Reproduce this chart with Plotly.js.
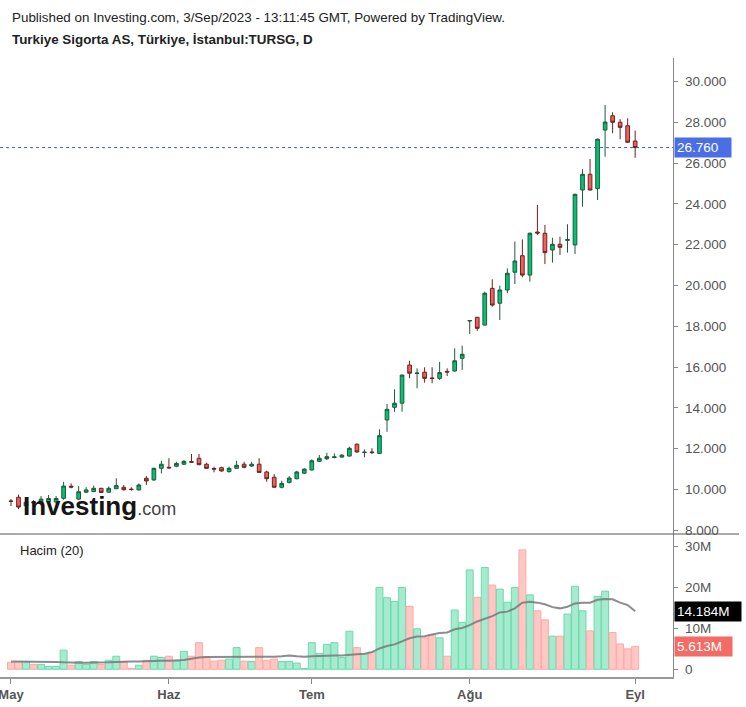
<!DOCTYPE html>
<html>
<head>
<meta charset="utf-8">
<script src="https://cdn.plot.ly/plotly-3.0.1.min.js"></script>
<style>html,body{margin:0;padding:0;background:#fff;}#chart{width:746px;height:707px;}</style>
</head>
<body>
<div id="chart"></div>
<script>
// Trading days (categories)
const dates = [
 '2023-05-02','2023-05-03','2023-05-04','2023-05-05','2023-05-08','2023-05-09','2023-05-10','2023-05-11','2023-05-12',
 '2023-05-15','2023-05-16','2023-05-17','2023-05-18','2023-05-22','2023-05-23','2023-05-24','2023-05-25','2023-05-26',
 '2023-05-29','2023-05-30','2023-05-31',
 '2023-06-01','2023-06-02','2023-06-05','2023-06-06','2023-06-07','2023-06-08','2023-06-09','2023-06-12','2023-06-13',
 '2023-06-14','2023-06-15','2023-06-16','2023-06-19','2023-06-20','2023-06-21','2023-06-22','2023-06-23','2023-06-26','2023-06-27',
 '2023-07-03','2023-07-04','2023-07-05','2023-07-06','2023-07-07','2023-07-10','2023-07-11','2023-07-12','2023-07-13','2023-07-14',
 '2023-07-17','2023-07-18','2023-07-19','2023-07-20','2023-07-21','2023-07-24','2023-07-25','2023-07-26','2023-07-27','2023-07-28','2023-07-31',
 '2023-08-01','2023-08-02','2023-08-03','2023-08-04','2023-08-07','2023-08-08','2023-08-09','2023-08-10','2023-08-11',
 '2023-08-14','2023-08-15','2023-08-16','2023-08-17','2023-08-18','2023-08-21','2023-08-22','2023-08-23','2023-08-24','2023-08-25',
 '2023-08-28','2023-08-29','2023-08-31',
 '2023-09-01'
];
const openP  = [9.44,9.62,9.20,9.38,9.39,9.40,9.39,9.57,10.16,9.53,9.87,9.90,10.06,9.87,10.04,10.11,10.02,9.98,10.55,10.47,
 11.04,11.09,11.14,11.24,11.37,11.53,11.24,11.03,11.07,10.88,11.04,11.24,11.15,11.24,10.86,10.60,10.11,10.35,10.53,10.80,
 10.96,11.38,11.51,11.57,11.59,11.64,12.22,11.81,11.84,11.77,13.41,14.03,14.23,16.10,15.69,15.75,15.47,15.45,15.79,15.81,
 16.43,18.26,18.44,18.06,19.86,19.13,19.78,20.65,21.46,20.51,22.62,22.56,21.74,22.02,22.21,21.99,24.68,25.45,24.75,27.62,
 28.32,28.00,27.83,27.08];
const highP  = [9.53,9.75,9.45,9.48,9.68,9.73,9.68,10.38,10.30,10.17,10.11,10.19,10.08,10.15,10.55,10.22,10.11,10.30,10.66,11.07,
 11.41,11.53,11.36,11.45,11.74,11.74,11.31,11.12,11.12,11.12,11.41,11.36,11.36,11.53,10.92,10.76,10.43,10.66,10.92,11.04,
 11.48,11.69,11.80,11.77,11.74,12.10,12.26,11.97,12.02,12.95,14.19,14.91,15.63,16.31,15.94,15.99,15.99,16.26,15.94,16.92,
 17.05,18.30,18.46,19.70,20.30,19.99,20.84,22.15,22.26,22.60,23.95,22.97,22.34,22.39,23.00,24.50,25.70,26.20,27.20,28.85,
 28.49,28.15,28.20,27.59];
const lowP   = [9.19,9.04,9.15,9.28,9.30,9.30,9.30,9.50,10.06,9.48,9.83,9.87,9.82,9.85,10.02,9.95,9.94,9.96,10.22,10.42,
 10.79,11.01,11.09,11.20,11.31,11.19,11.01,10.84,10.87,10.82,11.00,11.04,11.12,10.82,10.38,10.09,10.06,10.30,10.50,10.76,
 10.92,11.35,11.45,11.53,11.56,11.61,11.80,11.58,11.74,11.74,12.83,13.81,13.81,15.45,14.96,15.24,15.21,15.37,15.56,15.77,
 15.86,17.62,17.78,18.04,18.96,18.31,19.62,20.07,20.40,20.19,22.48,21.05,21.12,21.50,21.61,21.54,23.86,24.66,24.19,26.31,
 27.46,27.17,27.00,26.26];
const closeP = [9.42,9.14,9.38,9.35,9.53,9.56,9.56,10.17,10.12,9.89,9.98,10.06,9.86,10.06,10.19,9.99,10.00,10.22,10.42,11.04,
 11.24,11.06,11.28,11.38,11.34,11.22,11.04,11.00,10.91,11.04,11.19,11.09,11.24,10.84,10.53,10.11,10.30,10.56,10.86,11.00,
 11.41,11.53,11.61,11.60,11.68,12.02,11.84,11.83,11.81,12.64,13.93,14.23,15.61,15.70,15.71,15.45,15.44,15.73,15.76,16.31,
 16.63,18.28,17.90,19.62,19.04,19.78,20.60,21.20,20.51,22.56,22.57,21.61,22.02,21.87,22.25,24.47,25.45,24.68,27.17,28.01,
 28.00,27.75,27.02,26.76];
// Volume in millions
const volumeM = [1.7,1.9,1.9,1.2,1.2,0.7,0.7,4.7,1.0,1.9,1.2,1.9,1.2,2.2,3.2,1.9,0.2,1.0,2.2,3.2,
 2.9,3.2,2.0,4.4,3.2,6.5,3.1,2.0,2.2,2.5,5.3,2.0,1.9,5.3,2.2,2.5,1.9,1.9,1.5,0.2,
 6.5,3.9,6.1,6.5,2.9,9.3,5.3,3.7,4.2,20.0,17.5,16.6,20.0,15.4,9.9,7.7,8.4,7.7,3.2,14.5,
 11.5,24.3,17.6,24.9,20.6,19.6,16.4,20.0,29.2,18.2,14.3,12.1,8.1,8.1,13.5,20.3,14.3,9.4,17.8,19.1,
 9.0,6.2,5.0,5.6];
// Volume 20-day average (millions)
const volMA = [1.9,1.9,1.9,1.9,1.9,1.9,1.8,1.7,1.6,1.6,1.6,1.6,1.6,1.7,1.8,1.9,1.9,1.9,2.0,2.1,
 2.1,2.1,2.2,2.3,2.6,2.9,3.0,3.0,3.0,3.0,3.1,3.1,3.1,3.1,3.1,3.1,3.2,3.4,3.2,3.1,
 3.2,3.3,3.4,3.4,3.4,3.6,3.7,3.8,4.2,5.1,5.7,6.1,6.9,7.6,8.0,8.1,8.5,8.9,9.0,9.8,
 10.1,10.8,11.7,12.3,13.0,13.9,14.1,14.9,16.3,16.5,16.3,15.9,15.2,14.9,15.3,16.1,16.3,16.3,17.0,17.2,
 17.1,16.3,15.7,14.18];

const monthTickDates = ['2023-05-02','2023-06-01','2023-07-03','2023-08-01','2023-09-01'];
const monthTickText = ['May','Haz','Tem','Ağu','Eyl'];
const priceTicks = [8,10,12,14,16,18,20,22,24,26,28,30];
const priceTickText = ['8.000','10.000','12.000','14.000','16.000','18.000','20.000','22.000','24.000','26.000','28.000','30.000'];
const volTicks = [0,10,20,30];
const volTickText = ['0','10M','20M','30M'];
const lastPrice = 26.76, lastPriceText = '26.760';
const lastMA = 14.184, lastMAText = '14.184M';
const lastVol = 5.613, lastVolText = '5.613M';

const FONT = 'Liberation Sans, Arial, sans-serif';
const W = 746, H = 707, ML = 0, MR = 73, MT = 58, MB = 30;
const plotW = W - ML - MR, plotH = H - MT - MB;
const splitPx = 534;
const splitFrac = (H - MB - splitPx) / plotH;
const px2x = px => (px - ML) / plotW;
const py2y = py => (H - MB - py) / plotH;

const barFill = [], barLine = [];
for (let i = 0; i < closeP.length; i++) {
  const up = closeP[i] >= openP[i];
  barFill.push(up ? '#a6ead0' : '#ffc8c5');
  barLine.push(up ? '#6bdcab' : '#ffaaa4');
}

const traces = [
  {
    type: 'candlestick', x: dates, open: openP, high: highP, low: lowP, close: closeP,
    xaxis: 'x', yaxis: 'y',
    increasing: {line: {color: '#1d5a3a', width: 1}, fillcolor: '#05c178'},
    decreasing: {line: {color: '#6a2222', width: 1}, fillcolor: '#f2605a'},
    whiskerwidth: 0, hoverinfo: 'skip', showlegend: false
  },
  {
    type: 'bar', x: dates, y: volumeM, xaxis: 'x', yaxis: 'y2',
    marker: {color: barFill, line: {color: barLine, width: 1}},
    hoverinfo: 'skip', showlegend: false
  },
  {
    type: 'scatter', mode: 'lines', x: dates, y: volMA, xaxis: 'x', yaxis: 'y2',
    line: {color: 'rgba(120,120,120,0.85)', width: 2}, hoverinfo: 'skip', showlegend: false
  }
];

const tickFont = {family: FONT, size: 13.5, color: '#555'};
const layout = {
  width: W, height: H,
  margin: {l: ML, r: MR, t: MT, b: MB, pad: 0},
  paper_bgcolor: '#ffffff', plot_bgcolor: '#ffffff',
  font: {family: FONT, size: 13, color: '#555'},
  showlegend: false,
  boxgap: 0.3,
  bargap: 0.08,
  xaxis: {
    type: 'category', anchor: 'y2', domain: [0, 1],
    range: [-1.46, 88.03],
    rangeslider: {visible: false},
    tickmode: 'array', tickvals: monthTickDates,
    ticktext: monthTickText.map(t => '<b>' + t + '</b>'),
    ticks: 'outside', ticklen: 5, tickcolor: '#888', tickwidth: 1,
    showline: true, linecolor: '#999', linewidth: 1.5,
    showgrid: false, zeroline: false,
    tickfont: {family: FONT, size: 13, color: '#555'},
    ticklabeloverflow: 'allow'
  },
  yaxis: {
    domain: [splitFrac, 1], side: 'right', anchor: 'x',
    range: [7.82, 31.15],
    tickmode: 'array', tickvals: priceTicks, ticktext: priceTickText,
    ticks: 'outside', ticklen: 4, tickcolor: '#888', ticklabelstandoff: 4,
    showline: true, linecolor: '#888', linewidth: 1.2,
    showgrid: false, zeroline: false,
    tickfont: tickFont
  },
  yaxis2: {
    domain: [0, splitFrac], side: 'right', anchor: 'x',
    range: [-1.88, 33.08],
    tickmode: 'array', tickvals: volTicks, ticktext: volTickText,
    ticks: 'outside', ticklen: 4, tickcolor: '#888', ticklabelstandoff: 4,
    showline: true, linecolor: '#888', linewidth: 1.2,
    showgrid: false, zeroline: false,
    tickfont: tickFont
  },
  shapes: [
    {type: 'line', xref: 'paper', yref: 'y', x0: 0, x1: 1, y0: lastPrice, y1: lastPrice,
     line: {color: '#3b5ce0', width: 1, dash: 'dot'}},
    {type: 'line', xref: 'paper', yref: 'paper', x0: 0, x1: px2x(739), y0: splitFrac, y1: splitFrac,
     line: {color: '#555', width: 1}}
  ],
  annotations: [
    {xref: 'paper', yref: 'paper', x: px2x(10), y: py2y(17), xanchor: 'left', yanchor: 'middle', showarrow: false,
     text: 'Published on Investing.com, 3/Sep/2023 - 13:11:45 GMT, Powered by TradingView.',
     font: {family: FONT, size: 13.4, color: '#222'}},
    {xref: 'paper', yref: 'paper', x: px2x(10), y: py2y(40), xanchor: 'left', yanchor: 'middle', showarrow: false,
     text: '<b>Turkiye Sigorta AS, Türkiye, İstanbul:TURSG, D</b>',
     font: {family: FONT, size: 13.4, color: '#222'}},
    {xref: 'paper', yref: 'paper', x: px2x(18), y: py2y(550), xanchor: 'left', yanchor: 'middle', showarrow: false,
     text: 'Hacim (20)', font: {family: FONT, size: 13, color: '#222'}},
    {xref: 'paper', yref: 'paper', x: px2x(21), y: py2y(506), xanchor: 'left', yanchor: 'middle', showarrow: false,
     text: '<b>Investing</b><span style="font-size:18px;color:#444">.com</span>',
     font: {family: FONT, size: 26, color: '#151515'}},
    {xref: 'paper', yref: 'y', x: 1, y: lastPrice, xanchor: 'left', yanchor: 'middle', showarrow: false,
     text: lastPriceText, bgcolor: '#4a6ee6', borderpad: 2, xshift: 1, width: 52, align: 'left',
     font: {family: FONT, size: 13.5, color: '#ffffff'}},
    {xref: 'paper', yref: 'y2', x: 1, y: lastMA, xanchor: 'left', yanchor: 'middle', showarrow: false,
     text: lastMAText, bgcolor: '#000000', borderpad: 2, xshift: 1, width: 62, align: 'left',
     font: {family: FONT, size: 13.5, color: '#ffffff'}},
    {xref: 'paper', yref: 'y2', x: 1, y: lastVol, xanchor: 'left', yanchor: 'middle', showarrow: false,
     text: lastVolText, bgcolor: '#f26b64', borderpad: 2, xshift: 1, width: 53, align: 'left',
     font: {family: FONT, size: 13.5, color: '#ffffff'}}
  ]
};

Plotly.newPlot('chart', traces, layout, {displayModeBar: false, staticPlot: true});
</script>
</body>
</html>
